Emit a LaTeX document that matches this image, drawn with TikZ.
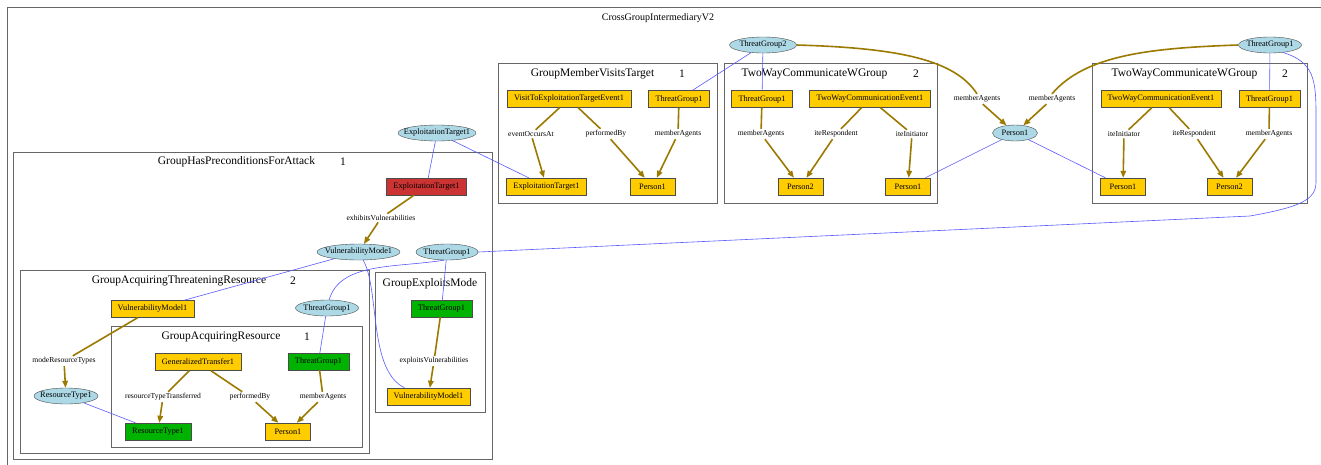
\documentclass[tikz,border=0pt]{standalone}
\usepackage{fontspec}
\setmainfont{Liberation Serif}
\usetikzlibrary{shapes.geometric,arrows.meta}
\definecolor{nodeyellow}{HTML}{FFCC00}
\definecolor{nodegreen}{HTML}{00B300}
\definecolor{nodered}{HTML}{CC3333}
\definecolor{blobblue}{HTML}{ADD8E6}
\definecolor{relgold}{HTML}{9C7A00}
\definecolor{linkblue}{HTML}{5A5AFF}
\begin{document}
\begin{tikzpicture}[x=1pt,y=-1pt,>={Triangle[length=7pt,width=5.5pt]},
  box/.style={draw=black!70,fill=nodeyellow,minimum width=45pt,minimum height=17pt,inner xsep=7pt,inner ysep=0pt,font=\fontsize{8.3}{9}\selectfont},
  gbox/.style={box,fill=nodegreen},
  rbox/.style={box,fill=nodered},
  blob/.style={ellipse,draw=black!70,fill=blobblue,inner xsep=-12pt,inner ysep=0pt,minimum height=16pt,font=\fontsize{8.3}{9}\selectfont},
  rel/.style={inner sep=1.5pt,font=\fontsize{7.6}{9}\selectfont},
  frame/.style={draw=black!60,line width=0.9pt},
  ctitle/.style={font=\fontsize{11.5}{13}\selectfont},
  has/.style={draw=relgold,line width=1.6pt},
  link/.style={draw=linkblue,line width=0.6pt}]
\clip (0,0) rectangle (1321,464);
\fill[white] (0,0) rectangle (1321,464);

% clusters
\draw[frame] (7,7) rectangle (1340,480);
\draw[frame] (13,152) rectangle (492,459);
\draw[frame] (20,270) rectangle (369,453);
\draw[frame] (111,326) rectangle (362,447);
\draw[frame] (375,272) rectangle (485,412);
\draw[frame] (498,63) rectangle (717,203);
\draw[frame] (724,63) rectangle (937,203);
\draw[frame] (1092,63) rectangle (1307,203);

\node[font=\fontsize{10}{12}\selectfont] (tCross) at (658,18) {CrossGroupIntermediaryV2};
\node[ctitle] (tHas) at (236.5,162) {GroupHasPreconditionsForAttack};
\node[ctitle] (nHas) at (343,162) {1};
\node[ctitle] (tThreat) at (179,281) {GroupAcquiringThreateningResource};
\node[ctitle] (nThreat) at (293,281) {2};
\node[ctitle] (tAcq) at (221,337) {GroupAcquiringResource};
\node[ctitle] (nAcq) at (307,337) {1};
\node[ctitle] (tExp) at (430,284) {GroupExploitsMode};
\node[ctitle] (tVisit) at (592.5,74) {GroupMemberVisitsTarget};
\node[ctitle] (nVisit) at (682,74) {1};
\node[ctitle] (tTwA) at (814.5,74) {TwoWayCommunicateWGroup};
\node[ctitle] (nTwA) at (916,74) {2};
\node[ctitle] (tTwB) at (1184.5,74) {TwoWayCommunicateWGroup};
\node[ctitle] (nTwB) at (1285,74) {2};

% shared ellipses
\node[blob,minimum width=78pt] (et0) at (437,133) {ExploitationTarget1};
\node[blob,minimum width=67pt] (tg2) at (763,45) {ThreatGroup2};
\node[blob,minimum width=45pt] (p1e) at (1015,133) {Person1};
\node[blob,minimum width=63pt] (tgR) at (1270,45) {ThreatGroup1};
\node[rel] (maL) at (977,99) {memberAgents};
\node[rel] (maR) at (1052,99) {memberAgents};

% GroupMemberVisitsTarget
\node[box] (visit) at (569,99) {VisitToExploitationTargetEvent1};
\node[box] (mvTG) at (679,99) {ThreatGroup1};
\node[rel] (mvOcc) at (531,134) {eventOccursAt};
\node[rel] (mvBy) at (606,134) {performedBy};
\node[rel] (mvMA) at (678,134) {memberAgents};
\node[box] (mvET) at (546.5,186.5) {ExploitationTarget1};
\node[box] (mvP) at (652.5,186.5) {Person1};

% TwoWayCommunicateWGroup (left)
\node[box] (aTG) at (762,99) {ThreatGroup1};
\node[box] (aEv) at (870,99) {TwoWayCommunicationEvent1};
\node[rel] (aMA) at (761,134) {memberAgents};
\node[rel] (aRe) at (836,134) {iteRespondent};
\node[rel] (aIn) at (912,134) {iteInitiator};
\node[box] (aP2) at (800.5,186.5) {Person2};
\node[box] (aP1) at (908,186.5) {Person1};

% TwoWayCommunicateWGroup (right)
\node[box] (bEv) at (1161,99) {TwoWayCommunicationEvent1};
\node[box] (bTG) at (1269.5,99) {ThreatGroup1};
\node[rel] (bIn) at (1124,134) {iteInitiator};
\node[rel] (bRe) at (1194,134) {iteRespondent};
\node[rel] (bMA) at (1269,134) {memberAgents};
\node[box] (bP1) at (1123,186.5) {Person1};
\node[box] (bP2) at (1229.5,186.5) {Person2};

% GroupHasPreconditionsForAttack
\node[rbox] (red) at (426.5,186.5) {ExploitationTarget1};
\node[rel] (exhib) at (381,218) {exhibitsVulnerabilities};
\node[blob,minimum width=83pt] (vm) at (358.5,252) {VulnerabilityMode1};
\node[blob,minimum width=62pt] (tg) at (447,252) {ThreatGroup1};

% GroupAcquiringThreateningResource
\node[box] (trVM) at (152.5,309) {VulnerabilityModel1};
\node[blob,minimum width=63pt] (trTG) at (327,308) {ThreatGroup1};
\node[rel] (modeRT) at (64,361) {modeResourceTypes};
\node[blob,minimum width=64pt] (rte) at (66,396) {ResourceType1};

% GroupAcquiringResource
\node[box] (gt) at (198,362) {GeneralizedTransfer1};
\node[gbox] (arTG) at (318.5,361.5) {ThreatGroup1};
\node[rel] (arRTT) at (163,397) {resourceTypeTransferred};
\node[rel] (arBy) at (250,397) {performedBy};
\node[rel] (arMA) at (323,397) {memberAgents};
\node[gbox] (arRT) at (158,431.5) {ResourceType1};
\node[box] (arP) at (288,431.5) {Person1};

% GroupExploitsMode
\node[gbox] (exTG) at (441.5,308.5) {ThreatGroup1};
\node[rel] (exVul) at (434,361) {exploitsVulnerabilities};
\node[box] (exVM) at (428.5,396.5) {VulnerabilityModel1};

% relations
\draw[has] (visit) -- (mvOcc); \draw[has,->] (mvOcc) -- (mvET);
\draw[has] (visit) -- (mvBy); \draw[has,->] (mvBy) -- (mvP);
\draw[has] (mvTG) -- (mvMA); \draw[has,->] (mvMA) -- (mvP);
\draw[has] (aTG) -- (aMA); \draw[has,->] (aMA) -- (aP2);
\draw[has] (aEv) -- (aRe); \draw[has,->] (aRe) -- (aP2);
\draw[has] (aEv) -- (aIn); \draw[has,->] (aIn) -- (aP1);
\draw[has] (bEv) -- (bIn); \draw[has,->] (bIn) -- (bP1);
\draw[has] (bEv) -- (bRe); \draw[has,->] (bRe) -- (bP2);
\draw[has] (bTG) -- (bMA); \draw[has,->] (bMA) -- (bP2);
\draw[has] (tg2.east) .. controls (900,48) and (955,60) .. (maL.north);
\draw[has,->] (maL) -- (p1e);
\draw[has] (tgR.west) .. controls (1150,48) and (1085,55) .. (maR.north);
\draw[has,->] (maR) -- (p1e);
\draw[has] (red) -- (exhib); \draw[has,->] (exhib) -- (vm);
\draw[has] (trVM) -- (modeRT); \draw[has,->] (modeRT) -- (rte);
\draw[has] (gt) -- (arRTT); \draw[has,->] (arRTT) -- (arRT);
\draw[has] (gt) -- (arBy); \draw[has,->] (arBy) -- (arP);
\draw[has] (arTG) -- (arMA); \draw[has,->] (arMA) -- (arP);
\draw[has] (exTG) -- (exVul); \draw[has,->] (exVul) -- (exVM);

% same-entity links
\draw[link] (et0) -- (red);
\draw[link] (et0) -- (mvET);
\draw[link] (tg2) -- (mvTG);
\draw[link] (tg2) -- (aTG);
\draw[link] (p1e) -- (aP1);
\draw[link] (p1e) -- (bP1);
\draw[link] (tgR) -- (bTG);
\draw[link] (tgR.330) .. controls (1314,62) and (1316,80) .. (1316,115) -- (1316,182)
  .. controls (1316,200) and (1300,207) .. (1250,216) -- (tg.east);
\draw[link] (tg) -- (exTG);
\draw[link] (tg.250) .. controls (395,268) and (340,262) .. (trTG.75);
\draw[link] (vm) -- (trVM);
\draw[link] (vm.300) .. controls (380,290) and (368,370) .. (exVM.160);
\draw[link] (trTG) -- (arTG);
\draw[link] (rte) -- (arRT);
\end{tikzpicture}
\end{document}
